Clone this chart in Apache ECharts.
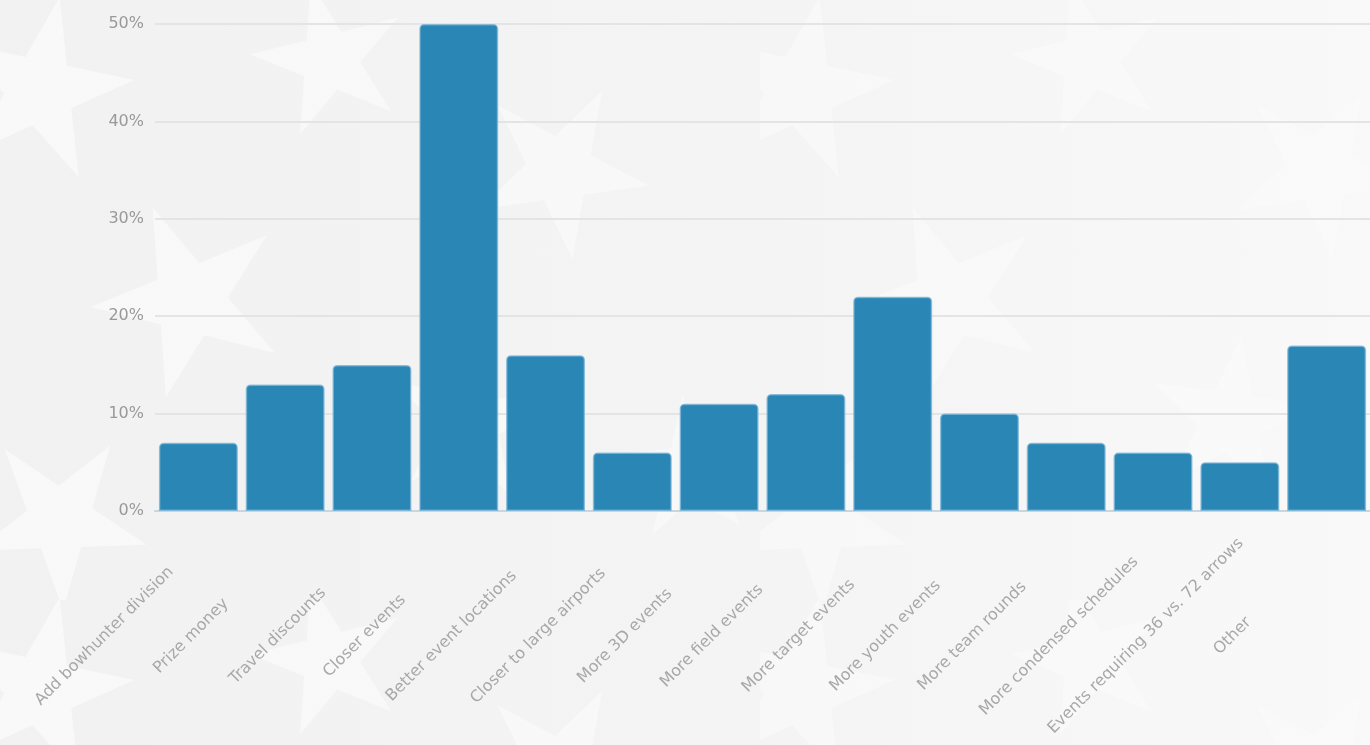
<!DOCTYPE html>
<html>
<head>
<meta charset="utf-8">
<script src="https://cdn.jsdelivr.net/npm/echarts@6/dist/echarts.min.js"></script>
<style>
html,body{margin:0;padding:0;width:1370px;height:745px;overflow:hidden;background-color:#f1f1f1;}
#chart{width:1370px;height:745px;}
</style>
</head>
<body>
<div id="chart"></div>
<script>
const categories = [
  "Add bowhunter division",
  "Prize money",
  "Travel discounts",
  "Closer events",
  "Better event locations",
  "Closer to large airports",
  "More 3D events",
  "More field events",
  "More target events",
  "More youth events",
  "More team rounds",
  "More condensed schedules",
  "Events requiring 36 vs. 72 arrows",
  "Other"
];
const percentages = [7, 13, 15, 50, 16, 6, 11, 12, 22, 10, 7, 6, 5, 17];
const yTicks = { min: 0, max: 50, interval: 10 };

// decorative star texture for the page background
(function () {
  const star = '0,-50 11.2,-15.4 47.6,-15.5 18.1,5.9 29.4,40.5 0,19 -29.4,40.5 -18.1,5.9 -47.6,-15.5 -11.2,-15.4';
  const placements = [
    [40, 90, 12, 1.9], [330, 60, -14, 1.6], [560, 170, 28, 1.8],
    [190, 300, -22, 2.0], [470, 420, 8, 1.7], [60, 520, 34, 1.8], [690, 470, -6, 1.5]
  ];
  let g = '';
  placements.forEach(p => {
    g += '<polygon points="' + star + '" transform="translate(' + p[0] + ',' + p[1] + ') rotate(' + p[2] + ') scale(' + p[3] + ')" fill="#ffffff" fill-opacity="0.55"/>';
  });
  const svg = '<svg xmlns="http://www.w3.org/2000/svg" width="760" height="600">' + g + '</svg>';
  document.body.style.backgroundImage =
    'linear-gradient(90deg, rgba(246,246,246,0.1) 0%, rgba(247,247,247,0.5) 55%, rgba(250,250,250,0.85) 100%), url("data:image/svg+xml,' + encodeURIComponent(svg) + '")';
})();

const chart = echarts.init(document.getElementById('chart'), null, {renderer: 'canvas'});
chart.setOption({
  backgroundColor: 'transparent',
  animation: false,
  grid: { left: 155, top: 24, width: 1225, height: 487 },
  xAxis: {
    type: 'category',
    data: categories,
    axisLine: { show: true, lineStyle: { color: '#c9d6de', width: 2 } },
    axisTick: { show: false },
    axisLabel: {
      interval: 0,
      rotate: 45,
      align: 'center',
      verticalAlign: 'middle',
      margin: 31,
      padding: [0, 266, 0, 0],
      color: '#a8a8a8',
      fontSize: 16,
      fontFamily: "'DejaVu Sans ExtraLight', 'DejaVu Sans', sans-serif"
    }
  },
  yAxis: {
    type: 'value',
    min: yTicks.min,
    max: yTicks.max,
    interval: yTicks.interval,
    axisLine: { show: false },
    axisTick: { show: false },
    splitLine: { lineStyle: { color: '#e4e4e4', width: 2 } },
    axisLabel: {
      formatter: '{value}%',
      margin: 11,
      color: '#999999',
      fontSize: 16,
      fontFamily: "'DejaVu Sans ExtraLight', 'DejaVu Sans', sans-serif"
    }
  },
  series: [{
    type: 'bar',
    data: percentages,
    barCategoryGap: '9%',
    itemStyle: {
      color: '#2a86b4',
      borderColor: 'rgba(120,180,215,0.75)',
      borderWidth: 1.5,
      borderRadius: [4, 4, 0, 0]
    }
  }]
});
</script>
</body>
</html>
